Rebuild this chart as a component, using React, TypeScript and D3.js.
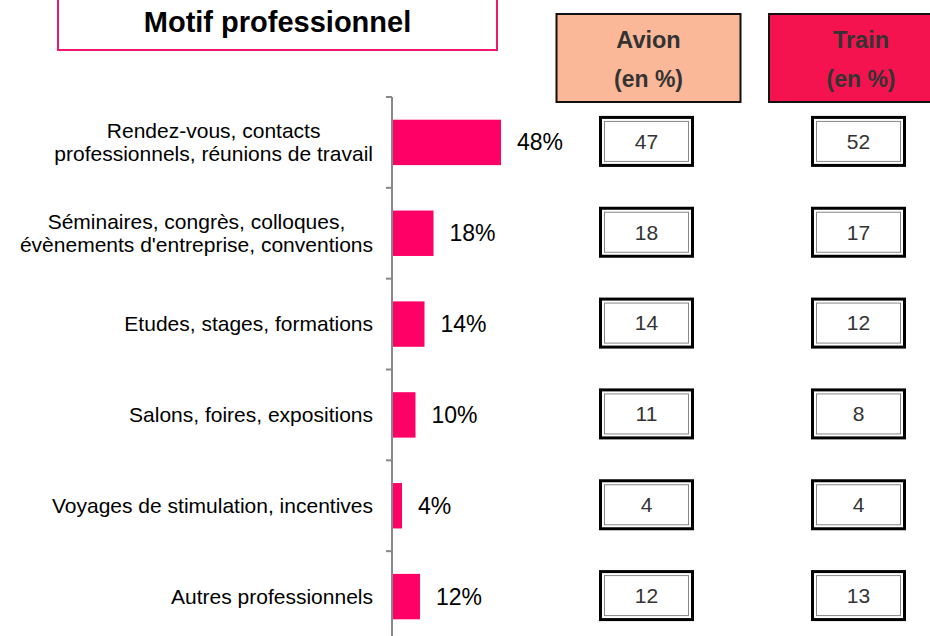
import React from "react";
import * as d3 from "d3";

const width = 930;
const height = 636;

const categories = [
  "Rendez-vous, contacts\nprofessionnels, réunions de travail",
  "Séminaires, congrès, colloques,\névènements d'entreprise, conventions",
  "Etudes, stages, formations",
  "Salons, foires, expositions",
  "Voyages de stimulation, incentives",
  "Autres professionnels"
];
const shares = [48, 18, 14, 10, 4, 12];
const modes = ["Avion", "Train"];
const avion = [47, 18, 14, 11, 4, 12];
const train = [52, 17, 12, 8, 4, 13];

const font = "'Liberation Sans', Arial, sans-serif";
const pink = "#ff0066";

// canvas is only used to measure label widths so multi-line labels can be centred
const ctx = document.createElement("canvas").getContext("2d");
const measure = (s: string, size: number) => {
  if (!ctx) return s.length * size * 0.5;
  ctx.font = `${size}px ${font}`;
  return ctx.measureText(s).width;
};

const y = d3
  .scaleBand()
  .domain(categories)
  .range([97, 642])
  .paddingInner(0.5)
  .paddingOuter(0.25);

const x = d3.scaleLinear().domain([0, 100]).range([393, 618]);

const colX = d3.scalePoint().domain(modes).range([646.5, 858.5]);
const headerX = d3.scalePoint().domain(modes).range([648.5, 861]);
const headerFill: Record<string, string> = { Avion: "#fbb899", Train: "#f5134f" };
const values: Record<string, number[]> = { Avion: avion, Train: train };

const labelRight = 373;
const labelSize = 21;

const App = () => {
  const step = y.step();
  const bw = y.bandwidth();
  const ticks = categories.map((c) => (y(c) as number) - step * 0.25);
  const boxW = 92;
  const boxH = 48;
  const headW = 184;

  return (
    <svg
      width={width}
      height={height}
      style={{ position: "absolute", left: 0, top: 0, display: "block", background: "#fff" }}
      fontFamily={font}
    >
      {/* title */}
      <rect x={58} y={-4} width={439} height={54} fill="#fff" stroke="#ee1870" strokeWidth={2} />
      <text x={277.5} y={32} textAnchor="middle" fontSize={29} fontWeight="bold" fill="#000">
        Motif professionnel
      </text>

      {/* column headers */}
      {modes.map((m) => (
        <g key={m}>
          <rect
            x={(headerX(m) as number) - headW / 2}
            y={14}
            width={headW}
            height={88}
            fill={headerFill[m]}
            stroke="#111"
            strokeWidth={2}
          />
          <text x={headerX(m)} y={48} textAnchor="middle" fontSize={23.5} fontWeight="bold" fill="#333">
            {m}
          </text>
          <text x={headerX(m)} y={87} textAnchor="middle" fontSize={23} fontWeight="bold" fill="#333">
            (en %)
          </text>
        </g>
      ))}

      {/* axis */}
      <line x1={392} x2={392} y1={97} y2={642} stroke="#888" strokeWidth={2} />
      {ticks.map((t, i) => (
        <line key={i} x1={386} x2={392} y1={t} y2={t} stroke="#888" strokeWidth={2} />
      ))}

      {categories.map((c, i) => {
        const cy = (y(c) as number) + bw / 2;
        const lines = c.split("\n");
        const maxW = d3.max(lines, (l) => measure(l, labelSize)) as number;
        const lx = labelRight - maxW / 2;
        return (
          <g key={c}>
            {lines.map((l, j) => (
              <text
                key={j}
                x={lx}
                y={cy + (j - (lines.length - 1) / 2) * 23}
                dy="0.35em"
                textAnchor="middle"
                fontSize={labelSize}
                fill="#000"
              >
                {l}
              </text>
            ))}
            <rect x={x(0)} y={y(c)} width={x(shares[i]) - x(0)} height={bw} fill={pink} />
            <text x={x(shares[i]) + 16} y={cy} dy="0.35em" fontSize={23} fill="#000">
              {shares[i]}%
            </text>
            {modes.map((m) => (
              <g key={m}>
                <rect
                  x={(colX(m) as number) - boxW / 2}
                  y={cy - 1 - boxH / 2}
                  width={boxW}
                  height={boxH}
                  fill="#fff"
                  stroke="#000"
                  strokeWidth={3}
                />
                <rect
                  x={(colX(m) as number) - boxW / 2 + 4}
                  y={cy - 1 - boxH / 2 + 4}
                  width={boxW - 8}
                  height={boxH - 8}
                  fill="none"
                  stroke="#888"
                  strokeWidth={1}
                />
                <text
                  x={colX(m)}
                  y={cy - 1}
                  dy="0.35em"
                  textAnchor="middle"
                  fontSize={21}
                  fill="#333"
                >
                  {values[m][i]}
                </text>
              </g>
            ))}
          </g>
        );
      })}
    </svg>
  );
};

export default App;
